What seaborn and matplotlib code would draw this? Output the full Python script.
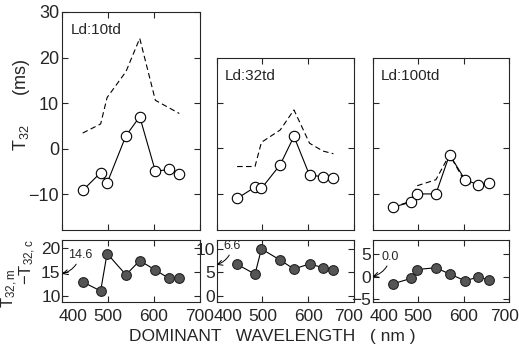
import numpy as np
import pandas as pd
import matplotlib
matplotlib.use("Agg")
import matplotlib.pyplot as plt
from matplotlib.transforms import ScaledTranslation
import seaborn as sns

# wavelengths of the test lights (nm)
wavelength = [445, 484, 498, 539, 569, 603, 632, 655]

# measured T32 (ms), open circles
t32_10td = [-9.2, -5.3, -7.6, 2.8, 7.0, -5.0, -4.6, -5.5]
t32_32td = [-11.0, -8.5, -8.8, -3.6, 2.6, -5.9, -6.2, -6.5]
t32_100td = [-12.9, -11.8, -10.0, -10.0, -1.4, -6.9, -8.0, -7.6]

# computed curves (dashed)
calc_wl_10td = [445, 484, 498, 539, 569, 603, 655]
calc_10td = [3.4, 5.4, 11.2, 16.9, 24.2, 10.6, 7.7]
calc_32td = [-4.0, -4.0, 1.3, 4.0, 8.4, 1.1, -0.6, -1.2]
calc_100td = [-12.9, -11.6, -8.2, -6.9, -1.4, -7.4, -8.4, -7.6]

# difference T32,m - T32,c (filled circles)
diff_10td = [12.9, 11.0, 18.9, 14.4, 17.4, 15.4, 13.7, 13.8]
diff_32td = [6.7, 4.6, 10.0, 7.6, 5.7, 6.8, 6.0, 5.5]
diff_100td = [-1.6, -0.4, 1.6, 2.0, 0.6, -0.9, -0.1, -0.7]

panel_titles = ["Ld:10td", "Ld:32td", "Ld:100td"]
mean_diff = ["14.6", "6.6", "0.0"]

sns.set_theme(style="ticks")
plt.rcParams["font.family"] = ["Liberation Sans", "DejaVu Sans"]
plt.rcParams["mathtext.default"] = "regular"
plt.rcParams["axes.linewidth"] = 0.8

W, H = 519, 349
fig = plt.figure(figsize=(W / 100, H / 100), dpi=100)


def rect(l, r, t, b):
    return [l / W, 1 - b / H, (r - l) / W, (b - t) / H]


# pixel boxes of the panels
lefts = [62, 216.5, 372.5]
rights = [200, 354, 509.3]
tops = [12, 58.3, 58.3]
top_ylims = [(-17.9, 30), (-17.9, 19.7), (-17.9, 19.7)]
bot_ylims = [(8.73, 21.75), (-1.28, 11.9), (-5.6, 8.2)]
bot_yticks = [[10, 15, 20], [0, 5, 10], [-5, 0, 5]]
note_pos = [(18, 13), (16, 13), (18, 14)]   # text offset from arrow tip, pixels
note_target = [14.6, 6.6, 0.0]

measured = [t32_10td, t32_32td, t32_100td]
calc_x = [calc_wl_10td, wavelength, wavelength]
calc_y = [calc_10td, calc_32td, calc_100td]
diffs = [diff_10td, diff_32td, diff_100td]

for i in range(3):
    ax = fig.add_axes(rect(lefts[i], rights[i], tops[i], 230))
    sns.lineplot(x=calc_x[i], y=calc_y[i], ax=ax, color="black",
                 linewidth=0.8, linestyle=(0, (5, 3)))
    sns.lineplot(x=wavelength, y=measured[i], ax=ax, color="black",
                 linewidth=0.8, marker="o", markersize=7.5,
                 markerfacecolor="white", markeredgecolor="black",
                 markeredgewidth=0.8)
    ax.set_xlim(400, 700)
    ax.set_ylim(*top_ylims[i])
    ax.set_xticks([400, 500, 600, 700])
    ax.set_xticklabels([])
    if i == 0:
        ax.set_yticks([-10, 0, 10, 20, 30])
        ax.set_yticklabels(["−10", "0", "10", "20", "30"], fontsize=13)
    else:
        ax.set_yticks([-10, 0, 10])
        ax.set_yticklabels([])
    ax.tick_params(direction="in", top=True, right=True, length=4,
                   width=0.8, pad=2)
    h_px = 230 - tops[i]
    ax.text(0.06, 1 - 18 / h_px, panel_titles[i], transform=ax.transAxes,
            fontsize=11, va="center", ha="left")

    bx = fig.add_axes(rect(lefts[i], rights[i], 240, 301.7))
    sns.lineplot(x=wavelength, y=diffs[i], ax=bx, color="black",
                 linewidth=0.8, marker="o", markersize=7,
                 markerfacecolor="#555555", markeredgecolor="#222222",
                 markeredgewidth=0.8)
    bx.set_xlim(400, 700)
    bx.set_ylim(*bot_ylims[i])
    bx.set_yticks(bot_yticks[i])
    bx.set_yticklabels([str(v).replace("-", "−") for v in bot_yticks[i]],
                       fontsize=12.5)
    bx.set_xticks([400, 500, 600, 700])
    bx.set_xticklabels(["400", "500", "600", "700"], fontsize=12.5)
    bx.tick_params(direction="in", top=True, right=True, length=4,
                   width=0.8)
    bx.tick_params(axis="x", pad=5)
    bx.tick_params(axis="y", pad=1)
    labs = bx.get_xticklabels()
    labs[0].set_horizontalalignment("left")
    labs[0].set_transform(labs[0].get_transform()
                          + ScaledTranslation(-3 / 100, 0, fig.dpi_scale_trans))
    if i == 1:
        labs[-1].set_transform(labs[-1].get_transform()
                               + ScaledTranslation(-5 / 100, 0, fig.dpi_scale_trans))
    if i == 2:
        labs[-1].set_transform(labs[-1].get_transform()
                               + ScaledTranslation(-5 / 100, 0, fig.dpi_scale_trans))
    dx, dy = note_pos[i]
    bx.annotate(mean_diff[i], xy=(400, note_target[i]), xycoords="data",
                xytext=(dx, dy), textcoords="offset pixels",
                fontsize=9, ha="center", va="bottom",
                arrowprops=dict(arrowstyle="->", lw=0.7, color="black",
                                connectionstyle="arc3,rad=-0.3",
                                shrinkA=0, shrinkB=0, clip_on=False),
                annotation_clip=False, zorder=5)

fig.text(22 / W, 1 - 105 / H, "T$_{32}$      (ms)", rotation=90,
         fontsize=13, ha="center", va="center")
fig.text(10 / W, 1 - 288 / H, "T$_{32,m}$", rotation=90,
         fontsize=12, ha="center", va="center")
fig.text(28 / W, 1 - 262 / H, "−T$_{32,c}$", rotation=90,
         fontsize=12, ha="center", va="center")
fig.text(272 / W, 1 - 336 / H, "DOMINANT   WAVELENGTH   ( nm )",
         fontsize=12.5, ha="center", va="center")

fig.savefig("out.png", dpi=100, facecolor="white")
